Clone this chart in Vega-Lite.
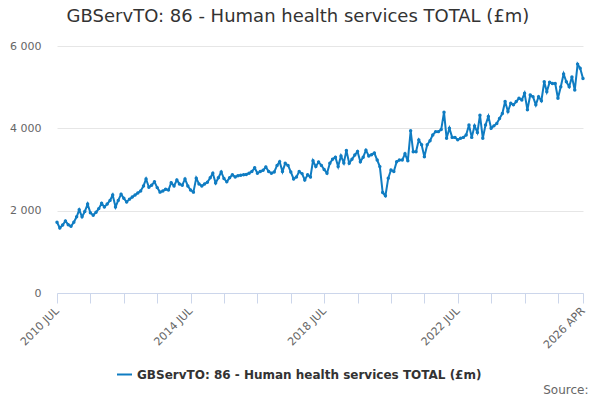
{
  "$schema": "https://vega.github.io/schema/vega-lite/v6.json",
  "width": 526,
  "height": 247,
  "autosize": "none",
  "padding": {"left": 57, "top": 46, "right": 17, "bottom": 107},
  "background": "#ffffff",
  "config": {
    "font": "DejaVu Sans",
    "view": {"stroke": null}
  },
  "title": {
    "text": "GBServTO: 86 - Human health services TOTAL (£m)",
    "fontSize": 18,
    "fontWeight": "normal",
    "color": "#333333",
    "anchor": "middle",
    "offset": 14,
    "dx": -22
  },
  "data": {
    "values": [
      {"date": "2010-07-01", "value": 1720}, {"date": "2010-08-01", "value": 1580}, {"date": "2010-09-01", "value": 1650},
      {"date": "2010-10-01", "value": 1750}, {"date": "2010-11-01", "value": 1660}, {"date": "2010-12-01", "value": 1620},
      {"date": "2011-01-01", "value": 1720}, {"date": "2011-02-01", "value": 1850}, {"date": "2011-03-01", "value": 2020},
      {"date": "2011-04-01", "value": 1850}, {"date": "2011-05-01", "value": 1980}, {"date": "2011-06-01", "value": 2160},
      {"date": "2011-07-01", "value": 1950}, {"date": "2011-08-01", "value": 1890}, {"date": "2011-09-01", "value": 1960},
      {"date": "2011-10-01", "value": 2050}, {"date": "2011-11-01", "value": 2180}, {"date": "2011-12-01", "value": 2090},
      {"date": "2012-01-01", "value": 2160}, {"date": "2012-02-01", "value": 2250}, {"date": "2012-03-01", "value": 2380},
      {"date": "2012-04-01", "value": 2090}, {"date": "2012-05-01", "value": 2250}, {"date": "2012-06-01", "value": 2400},
      {"date": "2012-07-01", "value": 2300}, {"date": "2012-08-01", "value": 2210}, {"date": "2012-09-01", "value": 2280},
      {"date": "2012-10-01", "value": 2330}, {"date": "2012-11-01", "value": 2380}, {"date": "2012-12-01", "value": 2430},
      {"date": "2013-01-01", "value": 2480}, {"date": "2013-02-01", "value": 2600}, {"date": "2013-03-01", "value": 2770},
      {"date": "2013-04-01", "value": 2570}, {"date": "2013-05-01", "value": 2620}, {"date": "2013-06-01", "value": 2700},
      {"date": "2013-07-01", "value": 2560}, {"date": "2013-08-01", "value": 2450}, {"date": "2013-09-01", "value": 2480},
      {"date": "2013-10-01", "value": 2520}, {"date": "2013-11-01", "value": 2500}, {"date": "2013-12-01", "value": 2680},
      {"date": "2014-01-01", "value": 2600}, {"date": "2014-02-01", "value": 2745}, {"date": "2014-03-01", "value": 2650},
      {"date": "2014-04-01", "value": 2620}, {"date": "2014-05-01", "value": 2770}, {"date": "2014-06-01", "value": 2600},
      {"date": "2014-07-01", "value": 2500}, {"date": "2014-08-01", "value": 2450}, {"date": "2014-09-01", "value": 2790},
      {"date": "2014-10-01", "value": 2650}, {"date": "2014-11-01", "value": 2600}, {"date": "2014-12-01", "value": 2650},
      {"date": "2015-01-01", "value": 2690}, {"date": "2015-02-01", "value": 2800}, {"date": "2015-03-01", "value": 2910},
      {"date": "2015-04-01", "value": 2670}, {"date": "2015-05-01", "value": 2800}, {"date": "2015-06-01", "value": 2940},
      {"date": "2015-07-01", "value": 2780}, {"date": "2015-08-01", "value": 2700}, {"date": "2015-09-01", "value": 2800},
      {"date": "2015-10-01", "value": 2870}, {"date": "2015-11-01", "value": 2820}, {"date": "2015-12-01", "value": 2850},
      {"date": "2016-01-01", "value": 2860}, {"date": "2016-02-01", "value": 2870}, {"date": "2016-03-01", "value": 2880},
      {"date": "2016-04-01", "value": 2910}, {"date": "2016-05-01", "value": 2950}, {"date": "2016-06-01", "value": 3040},
      {"date": "2016-07-01", "value": 2910}, {"date": "2016-08-01", "value": 2950}, {"date": "2016-09-01", "value": 2980},
      {"date": "2016-10-01", "value": 3060}, {"date": "2016-11-01", "value": 2950}, {"date": "2016-12-01", "value": 2910},
      {"date": "2017-01-01", "value": 2940}, {"date": "2017-02-01", "value": 3100}, {"date": "2017-03-01", "value": 3190},
      {"date": "2017-04-01", "value": 2950}, {"date": "2017-05-01", "value": 3150}, {"date": "2017-06-01", "value": 3100},
      {"date": "2017-07-01", "value": 2940}, {"date": "2017-08-01", "value": 2770}, {"date": "2017-09-01", "value": 2820},
      {"date": "2017-10-01", "value": 2950}, {"date": "2017-11-01", "value": 2900}, {"date": "2017-12-01", "value": 2745},
      {"date": "2018-01-01", "value": 2870}, {"date": "2018-02-01", "value": 2820}, {"date": "2018-03-01", "value": 3210},
      {"date": "2018-04-01", "value": 3070}, {"date": "2018-05-01", "value": 3180}, {"date": "2018-06-01", "value": 3100},
      {"date": "2018-07-01", "value": 3000}, {"date": "2018-08-01", "value": 2910}, {"date": "2018-09-01", "value": 3150},
      {"date": "2018-10-01", "value": 3250}, {"date": "2018-11-01", "value": 3300}, {"date": "2018-12-01", "value": 3070},
      {"date": "2019-01-01", "value": 3330}, {"date": "2019-02-01", "value": 3160}, {"date": "2019-03-01", "value": 3460},
      {"date": "2019-04-01", "value": 3150}, {"date": "2019-05-01", "value": 3250}, {"date": "2019-06-01", "value": 3350},
      {"date": "2019-07-01", "value": 3440}, {"date": "2019-08-01", "value": 3190}, {"date": "2019-09-01", "value": 3300},
      {"date": "2019-10-01", "value": 3470}, {"date": "2019-11-01", "value": 3330}, {"date": "2019-12-01", "value": 3360},
      {"date": "2020-01-01", "value": 3400}, {"date": "2020-02-01", "value": 3230}, {"date": "2020-03-01", "value": 3070},
      {"date": "2020-04-01", "value": 2440}, {"date": "2020-05-01", "value": 2360}, {"date": "2020-06-01", "value": 2790},
      {"date": "2020-07-01", "value": 2990}, {"date": "2020-08-01", "value": 2950}, {"date": "2020-09-01", "value": 3190},
      {"date": "2020-10-01", "value": 3230}, {"date": "2020-11-01", "value": 3230}, {"date": "2020-12-01", "value": 3380},
      {"date": "2021-01-01", "value": 3210}, {"date": "2021-02-01", "value": 3940}, {"date": "2021-03-01", "value": 3430},
      {"date": "2021-04-01", "value": 3430}, {"date": "2021-05-01", "value": 3720}, {"date": "2021-06-01", "value": 3600},
      {"date": "2021-07-01", "value": 3310}, {"date": "2021-08-01", "value": 3600}, {"date": "2021-09-01", "value": 3700},
      {"date": "2021-10-01", "value": 3840}, {"date": "2021-11-01", "value": 3920}, {"date": "2021-12-01", "value": 3920},
      {"date": "2022-01-01", "value": 3970}, {"date": "2022-02-01", "value": 4390}, {"date": "2022-03-01", "value": 3760},
      {"date": "2022-04-01", "value": 4000}, {"date": "2022-05-01", "value": 3780}, {"date": "2022-06-01", "value": 3780},
      {"date": "2022-07-01", "value": 3720}, {"date": "2022-08-01", "value": 3760}, {"date": "2022-09-01", "value": 3780},
      {"date": "2022-10-01", "value": 3840}, {"date": "2022-11-01", "value": 4080}, {"date": "2022-12-01", "value": 3780},
      {"date": "2023-01-01", "value": 4060}, {"date": "2023-02-01", "value": 3900}, {"date": "2023-03-01", "value": 4320},
      {"date": "2023-04-01", "value": 3760}, {"date": "2023-05-01", "value": 4080}, {"date": "2023-06-01", "value": 4290},
      {"date": "2023-07-01", "value": 4000}, {"date": "2023-08-01", "value": 4060}, {"date": "2023-09-01", "value": 4120},
      {"date": "2023-10-01", "value": 4240}, {"date": "2023-11-01", "value": 4360}, {"date": "2023-12-01", "value": 4650},
      {"date": "2024-01-01", "value": 4410}, {"date": "2024-02-01", "value": 4610}, {"date": "2024-03-01", "value": 4570},
      {"date": "2024-04-01", "value": 4650}, {"date": "2024-05-01", "value": 4730}, {"date": "2024-06-01", "value": 4690},
      {"date": "2024-07-01", "value": 4850}, {"date": "2024-08-01", "value": 4450}, {"date": "2024-09-01", "value": 4810},
      {"date": "2024-10-01", "value": 4770}, {"date": "2024-11-01", "value": 4570}, {"date": "2024-12-01", "value": 4770},
      {"date": "2025-01-01", "value": 4670}, {"date": "2025-02-01", "value": 5130}, {"date": "2025-03-01", "value": 4890},
      {"date": "2025-04-01", "value": 5120}, {"date": "2025-05-01", "value": 5090}, {"date": "2025-06-01", "value": 5090},
      {"date": "2025-07-01", "value": 4730}, {"date": "2025-08-01", "value": 5010}, {"date": "2025-09-01", "value": 5320},
      {"date": "2025-10-01", "value": 5130}, {"date": "2025-11-01", "value": 5010}, {"date": "2025-12-01", "value": 5250},
      {"date": "2026-01-01", "value": 4930}, {"date": "2026-02-01", "value": 5560}, {"date": "2026-03-01", "value": 5460},
      {"date": "2026-04-01", "value": 5210}
    ]
  },
  "mark": {
    "type": "line",
    "strokeWidth": 2,
    "point": {"filled": true, "size": 12}
  },
  "encoding": {
    "x": {
      "field": "date",
      "type": "temporal",
      "scale": {
        "type": "utc",
        "domain": [
          {"year": 2010, "month": "jul", "date": 1, "utc": true},
          {"year": 2026, "month": "apr", "date": 1, "utc": true}
        ],
        "nice": false
      },
      "axis": {
        "values": [
          {"year": 2010, "month": "jul", "date": 1, "utc": true},
          {"year": 2011, "month": "jul", "date": 1, "utc": true},
          {"year": 2012, "month": "jul", "date": 1, "utc": true},
          {"year": 2013, "month": "jul", "date": 1, "utc": true},
          {"year": 2014, "month": "jul", "date": 1, "utc": true},
          {"year": 2015, "month": "jul", "date": 1, "utc": true},
          {"year": 2016, "month": "jul", "date": 1, "utc": true},
          {"year": 2017, "month": "jul", "date": 1, "utc": true},
          {"year": 2018, "month": "jul", "date": 1, "utc": true},
          {"year": 2019, "month": "jul", "date": 1, "utc": true},
          {"year": 2020, "month": "jul", "date": 1, "utc": true},
          {"year": 2021, "month": "jul", "date": 1, "utc": true},
          {"year": 2022, "month": "jul", "date": 1, "utc": true},
          {"year": 2023, "month": "jul", "date": 1, "utc": true},
          {"year": 2024, "month": "jul", "date": 1, "utc": true},
          {"year": 2025, "month": "jul", "date": 1, "utc": true},
          {"year": 2026, "month": "apr", "date": 1, "utc": true}
        ],
        "labelExpr": "(utcmonth(datum.value) == 6 && (utcyear(datum.value) - 2010) % 4 == 0) || utcmonth(datum.value) == 3 ? upper(utcFormat(datum.value, '%Y %b')) : ''",
        "labelAngle": -45,
        "labelAlign": "right",
        "labelBaseline": "middle",
        "labelFontSize": 11,
        "labelColor": "#666666",
        "labelPadding": 6,
        "labelOverlap": false,
        "labelFlush": false,
        "grid": false,
        "domainColor": "#ccd6eb",
        "tickColor": "#ccd6eb",
        "tickSize": 10,
        "title": "Source:",
        "titleFontSize": 12,
        "titleFontWeight": "normal",
        "titleColor": "#666666",
        "titleAnchor": "end",
        "titleAlign": "right",
        "titleBaseline": "middle",
        "titleX": 531,
        "titleY": 96
      }
    },
    "y": {
      "field": "value",
      "type": "quantitative",
      "scale": {"domain": [0, 6000], "nice": false},
      "axis": {
        "values": [0, 2000, 4000, 6000],
        "labelExpr": "replace(format(datum.value, ','), ',', ' ')",
        "labelFontSize": 11,
        "labelColor": "#666666",
        "labelPadding": 16,
        "ticks": false,
        "domain": false,
        "gridColor": "#e6e6e6",
        "title": null
      }
    },
    "color": {
      "datum": "GBServTO: 86 - Human health services TOTAL (£m)",
      "scale": {"range": ["#0f7cc2"]},
      "legend": {
        "title": null,
        "orient": "none",
        "legendX": 59,
        "legendY": 320,
        "padding": 0,
        "symbolType": "stroke",
        "symbolSize": 225,
        "symbolStrokeWidth": 2,
        "labelFontSize": 12,
        "labelFontWeight": "bold",
        "labelColor": "#333333",
        "labelLimit": 500
      }
    }
  }
}
